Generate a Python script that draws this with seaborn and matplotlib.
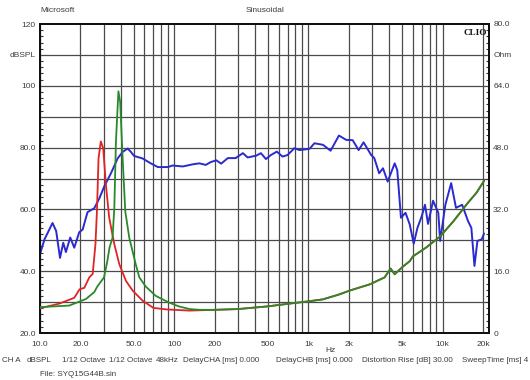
import numpy as np
import pandas as pd
import matplotlib
matplotlib.use("Agg")
import matplotlib.pyplot as plt
import seaborn as sns
from matplotlib.ticker import FixedLocator, MultipleLocator, NullFormatter

# ---------------- data ----------------
spl_freq = [10, 10.8, 12.4, 13.2, 14.1, 14.9, 15.6, 16.8, 18.0, 19.6, 20.8, 22.6, 25.4,
            27.7, 30.1, 33.8, 37.9, 41.3, 45, 47.6, 50.3, 58, 67, 75.5, 90, 97, 116,
            138, 154, 172, 187, 206, 224, 251, 287, 325, 353, 409, 443, 483, 526, 582,
            642, 700, 787, 858, 1020, 1110, 1285, 1465, 1690, 1915, 2140, 2370, 2580,
            2940, 3100, 3370, 3600, 3900, 4400, 4600, 4900, 5300, 5700, 6100, 6500,
            7000, 7400, 7800, 8500, 9300, 9600, 10500, 11600, 12600, 14000, 15500,
            16400, 17300, 18200, 19600, 20400]
spl_db = [45.5, 50.3, 55.6, 53.0, 44.3, 49.2, 46.2, 50.9, 47.6, 52.6, 53.5, 59.1, 60.4,
          63.6, 67.4, 71.7, 76.5, 78.6, 79.7, 78.6, 77.3, 76.5, 74.9, 73.7, 73.7, 74.2,
          73.9, 74.6, 74.9, 74.4, 75.3, 75.9, 74.8, 76.6, 76.6, 78.2, 76.8, 77.4, 78.2,
          76.3, 77.6, 78.7, 77.1, 77.6, 79.8, 79.2, 79.6, 81.4, 80.9, 79.0, 83.9, 82.5,
          82.4, 79.2, 81.7, 77.6, 76.6, 71.7, 73.3, 69.0, 74.9, 72.7, 57.3, 58.9, 55.1,
          48.9, 54.0, 57.8, 61.5, 55.3, 62.8, 58.9, 49.8, 61.5, 68.5, 60.5, 61.5, 56.2,
          54.0, 41.7, 49.8, 50.3, 52.2]

red_freq = [10, 13.9, 16.5, 18, 19.7, 21.4, 23.3, 24.7, 25.9, 26.6, 27.3, 28.4, 29.6,
            31, 32.8, 35.8, 39, 43.7, 49, 58, 70, 88, 130, 200, 300, 500, 720, 1000,
            1280, 1670, 2040, 2870, 3700, 4100, 4400, 5070, 5700, 6000, 7600, 9600,
            12100, 15200, 17900, 20400]
red_ohm = [6.4, 7.6, 8.6, 9.1, 11.3, 11.7, 14.4, 15.3, 23.0, 32.0, 45.2, 49.6, 47.8,
           38.3, 29.8, 23.0, 17.8, 13.5, 11.0, 8.4, 6.5, 6.1, 5.8, 6.0, 6.2, 6.9, 7.6,
           8.2, 8.7, 9.9, 11.0, 12.6, 14.4, 16.7, 15.2, 17.2, 18.6, 19.8, 22.2, 25.0,
           29.0, 33.4, 36.3, 39.4]

green_freq = [10, 16.5, 22, 25.4, 26.7, 30, 31.8, 33, 34.7, 35.8, 36.8, 38.4, 39.6,
              41.3, 43.2, 46.3, 51.7, 55, 61.5, 73, 90, 108, 130, 155, 200, 300, 500,
              720, 1000, 1280, 1670, 2040, 2870, 3700, 4100, 4400, 5070, 5700, 6000,
              7600, 9600, 12100, 15200, 17900, 20400]
green_ohm = [6.7, 7.1, 8.8, 10.6, 12.0, 14.4, 18.7, 22.2, 24.6, 32.3, 49.4, 62.6, 59.8,
             45.2, 31.5, 24.6, 17.8, 14.4, 12.0, 9.6, 8.0, 6.9, 6.2, 6.0, 6.0, 6.2, 6.9,
             7.6, 8.2, 8.7, 9.9, 11.0, 12.6, 14.4, 16.7, 15.2, 17.2, 18.6, 19.8, 22.2,
             25.0, 29.0, 33.4, 36.3, 39.4]

x_grid = [10, 20, 30, 40, 50, 60, 70, 80, 90, 100, 200, 300, 400, 500, 600, 700, 800,
          900, 1000, 2000, 3000, 4000, 5000, 6000, 7000, 8000, 9000, 10000, 20000]
x_labels = {10: "10.0", 20: "20.0", 50: "50.0", 100: "100", 200: "200", 500: "500",
            1000: "1k", 2000: "2k", 5000: "5k", 10000: "10k", 20000: "20k"}
db_ticks = [20, 30, 40, 50, 60, 70, 80, 90, 100, 110, 120]
db_labels = ["20.0", "", "40.0", "", "60.0", "", "80.0", "", "100", "dBSPL", "120"]
ohm_ticks = [0, 16, 32, 48, 64, 72, 80]
ohm_labels = ["0", "16.0", "32.0", "48.0", "64.0", "Ohm", "80.0"]

footer_items = ["CH A", "dBSPL", "1/12 Octave", "1/12 Octave", "48kHz",
                "DelayCHA [ms] 0.000", "DelayCHB [ms] 0.000",
                "Distortion Rise [dB] 30.00", "SweepTime [ms] 4"]

# ---------------- plotting ----------------
sns.set_style("white")
plt.rcParams["font.family"] = ["Liberation Sans", "DejaVu Sans"]

W, H = 530, 380
FS = 6.0
FS_FOOT = 5.8
fig = plt.figure(figsize=(W / 100, H / 100), dpi=100)
fig.patch.set_facecolor("white")
ax = fig.add_axes([40 / W, 47 / H, 449 / W, 309 / H])
ax2 = ax.twinx()

txt_col = "#3c3c3c"
grid_col = "#4a4a4a"

ax.set_xscale("log")
ax.set_xlim(10, 22200)
ax.set_ylim(20, 120)
ax2.set_ylim(0, 80)

# grid
for xv in x_grid:
    ax.axvline(xv, color=grid_col, lw=0.9, zorder=1)
for yv in db_ticks[1:-1]:
    ax.axhline(yv, color=grid_col, lw=0.9, zorder=1)

df_red = pd.DataFrame({"f": red_freq, "z": red_ohm})
df_green = pd.DataFrame({"f": green_freq, "z": green_ohm})
df_spl = pd.DataFrame({"f": spl_freq, "db": spl_db})

sns.lineplot(data=df_red, x="f", y="z", ax=ax2, color="#e02424", lw=1.3,
             sort=False, estimator=None, zorder=3)
sns.lineplot(data=df_green, x="f", y="z", ax=ax2, color="#2a8a2a", lw=1.3,
             sort=False, estimator=None, zorder=4)
sns.lineplot(data=df_spl, x="f", y="db", ax=ax, color="#2a2ad0", lw=1.4,
             sort=False, estimator=None, zorder=5)

# x ticks
ax.xaxis.set_major_locator(FixedLocator(list(x_labels.keys())))
ax.set_xticklabels(list(x_labels.values()))
ax.xaxis.set_minor_locator(FixedLocator([]))
ax.xaxis.set_minor_formatter(NullFormatter())
ax.tick_params(axis="x", which="major", length=0, pad=6, labelsize=FS, colors=txt_col)

# left y
ax.set_yticks(db_ticks)
ax.set_yticklabels(db_labels)
ax.yaxis.set_minor_locator(MultipleLocator(2))
ax.tick_params(axis="y", which="major", length=0, pad=3, labelsize=FS, colors=txt_col)
ax.tick_params(axis="y", which="minor", direction="in", length=2.5, width=0.8,
               color="#333333", left=True)

# right y
ax2.set_yticks(ohm_ticks)
ax2.set_yticklabels(ohm_labels)
ax2.yaxis.set_minor_locator(MultipleLocator(1.6))
ax2.tick_params(axis="y", which="major", length=0, pad=3, labelsize=FS, colors=txt_col)
ax2.tick_params(axis="y", which="minor", direction="in", length=2.5, width=0.8,
                color="#333333", right=True)

ax.set_xlabel("")
ax.set_ylabel("")
ax2.set_xlabel("")
ax2.set_ylabel("")

for a in (ax, ax2):
    for s in a.spines.values():
        s.set_color("#111111")
        s.set_linewidth(1.4)
    a.grid(False)

# Hz marker on x axis
ax.text(1450, -0.045, "Hz", transform=ax.get_xaxis_transform(), ha="center",
        va="top", fontsize=FS, color=txt_col)

# CLIO logo
ax.text(0.995, 0.985, "CLIO", transform=ax.transAxes, ha="right", va="top",
        fontsize=6.6, fontweight="bold", family=["Liberation Serif", "DejaVu Serif"],
        color="#111111", zorder=6)

# header texts
fig.text(40 / W, 1 - 11 / H, "Microsoft", ha="left", va="center", fontsize=FS, color=txt_col)
fig.text(265 / W, 1 - 11 / H, "Sinusoidal", ha="center", va="center", fontsize=FS, color=txt_col)

# footer
footer_x = [2, 27, 62, 109, 156, 183, 276, 362, 462]
for xp, t in zip(footer_x, footer_items):
    fig.text(xp / W, 1 - 361 / H, t, ha="left", va="center", fontsize=FS_FOOT, color=txt_col)
fig.text(40 / W, 1 - 374 / H, "File: SYQ15G44B.sin", ha="left", va="center",
         fontsize=FS_FOOT, color=txt_col)

fig.savefig("out.png", dpi=100, facecolor="white")
